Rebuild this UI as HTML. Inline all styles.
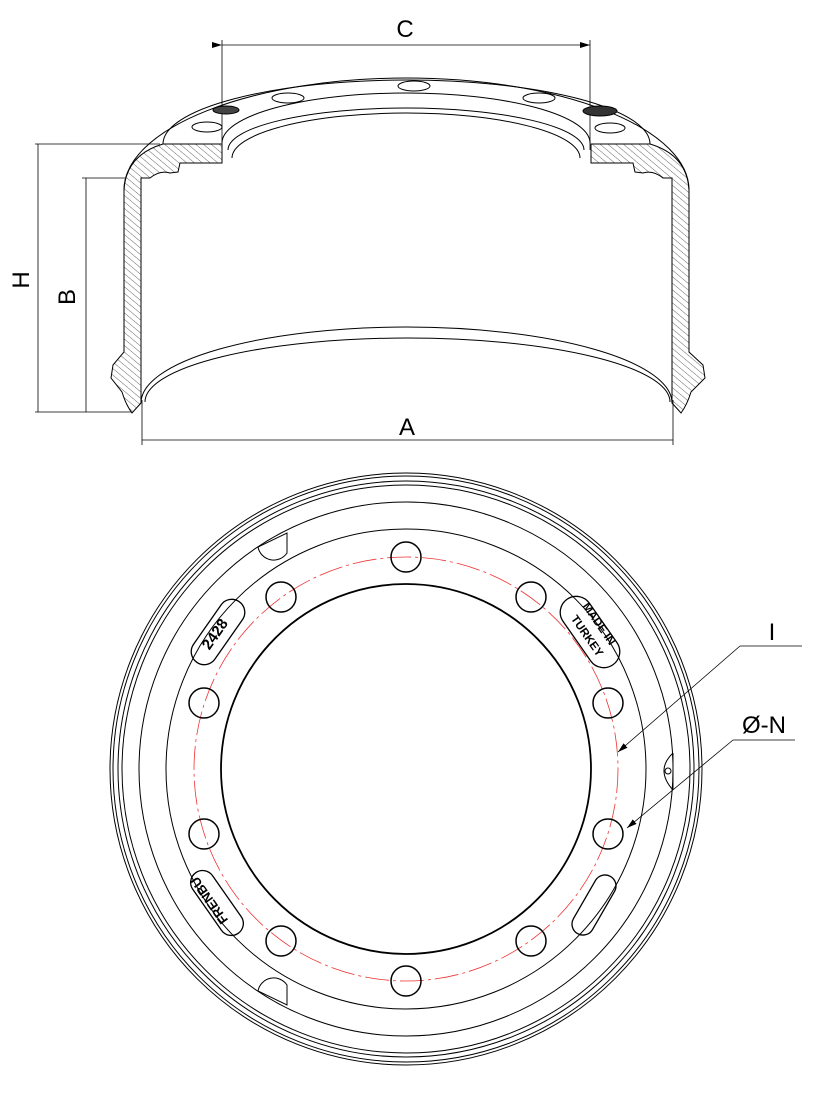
<!DOCTYPE html>
<html><head><meta charset="utf-8"><style>
html,body{margin:0;padding:0;background:#fff}
svg{display:block}
text{font-family:"Liberation Sans",sans-serif}
</style></head><body>
<svg width="815" height="1107" viewBox="0 0 815 1107" xmlns="http://www.w3.org/2000/svg">
<defs>
<pattern id="h" width="5" height="5" patternUnits="userSpaceOnUse" patternTransform="rotate(-50)">
<line x1="0" y1="0" x2="0" y2="5" stroke="#000" stroke-width="0.6"/>
</pattern>
<marker id="ar" markerWidth="10" markerHeight="6" refX="10" refY="3" orient="auto" markerUnits="userSpaceOnUse">
<path d="M0,0 L10,3 L0,6 Z" fill="#000"/>
</marker>
</defs>
<g fill="none" stroke="#000" stroke-width="1">
<line x1="222" y1="40" x2="222" y2="150" stroke-width="0.8"/>
<line x1="590" y1="40" x2="590" y2="150" stroke-width="0.8"/>
<line x1="222" y1="45" x2="590" y2="45" marker-start="url(#ar)" marker-end="url(#ar)" stroke-width="0.8"/>
<line x1="35" y1="144" x2="160" y2="144" stroke-width="0.8"/>
<line x1="35" y1="412" x2="132" y2="412" stroke-width="0.8"/>
<line x1="38" y1="144" x2="38" y2="412" stroke-width="0.8"/>
<line x1="82" y1="178" x2="125" y2="178" stroke-width="0.8"/>
<line x1="86" y1="178" x2="86" y2="412" stroke-width="0.8"/>
<line x1="142" y1="400" x2="142" y2="445" stroke-width="0.8"/>
<line x1="673" y1="400" x2="673" y2="445" stroke-width="0.8"/>
<line x1="142" y1="440" x2="673" y2="440" stroke-width="0.8"/>

<path d="M124,190 A282.5,112 0 0 1 689,190"/>
<path d="M163,144 A243.5,64 0 0 1 650,144"/>
<path d="M222,143 A184,50 0 0 1 590,143"/>
<path d="M228,150 A178,42 0 0 1 584,150"/>
<path d="M232,158 A174,45 0 0 1 580,158"/>
<path d="M141,403 A265.5,76 0 0 1 672,403"/>
<path d="M145,402 A262.5,64 0 0 1 670,402"/>
<path d="M124,190 Q126,155 163,144 L222,144 L222,163 L180,163 L178,172 L170,173 Q160,170 150,178 L141,178 L141,403 L132,413 Q126,405 122,392 L111,378 L113,365 L124,352 Z" fill="url(#h)"/>
<path d="M689,190 Q687,155 650,144 L591,144 L591,163 L633,163 L635,172 L643,173 Q653,170 663,178 L672,178 L672,403 L681,413 Q687,405 691,392 L705,378 L703,365 L689,352 Z" fill="url(#h)"/>
<ellipse cx="414" cy="86" rx="16" ry="5"/>
<ellipse cx="288" cy="98" rx="16" ry="5"/>
<ellipse cx="539" cy="98" rx="16" ry="5"/>
<ellipse cx="207" cy="127" rx="15" ry="5"/>
<ellipse cx="610" cy="128" rx="15" ry="5"/>
<ellipse cx="226" cy="110" rx="13" ry="4" fill="#444"/>
<ellipse cx="600" cy="111" rx="17" ry="5" fill="#333"/>

<circle cx="406" cy="769" r="296"/>
<circle cx="406" cy="769" r="293"/>
<circle cx="406" cy="769" r="288"/>
<circle cx="406" cy="769" r="284"/>
<circle cx="406" cy="769" r="267"/>
<circle cx="406" cy="769" r="240"/>
<circle cx="406" cy="769" r="185" stroke-width="1.8"/>
<circle cx="406" cy="769" r="212" stroke="#e33" stroke-width="0.8" stroke-dasharray="24,4,3,4"/>
<g stroke-width="1.5">
<circle cx="406" cy="557" r="15"/>
<circle cx="531" cy="597" r="15"/>
<circle cx="281" cy="597" r="15"/>
<circle cx="608" cy="703" r="15"/>
<circle cx="204" cy="703" r="15"/>
<circle cx="608" cy="834" r="15"/>
<circle cx="204" cy="834" r="15"/>
<circle cx="531" cy="941" r="15"/>
<circle cx="281" cy="941" r="15"/>
<circle cx="406" cy="981" r="15"/>
</g>
<path d="M287,533 L287,553 A16,16 0 0 1 258,547 Z"/>
<path d="M287,1005 L287,985 A16,16 0 0 0 258,991 Z"/>
<path d="M673,753 Q655,770 673,790"/>
<line x1="673" y1="753" x2="673" y2="790"/>
<circle cx="668" cy="771" r="3"/>
<rect x="-33" y="-11" width="66" height="22" rx="11" transform="translate(594,905) rotate(-60)" stroke-width="1.3"/>
<rect x="-37" y="-13" width="74" height="26" rx="13" transform="translate(218,632) rotate(-55)" stroke-width="1.3"/>
<rect x="-40" y="-16" width="80" height="32" rx="16" transform="translate(590,632) rotate(55)" stroke-width="1.3"/>
<rect x="-37" y="-12" width="74" height="24" rx="12" transform="translate(217,903) rotate(55)" stroke-width="1.3"/>
<line x1="740" y1="646" x2="802" y2="646" stroke-width="0.8"/>
<line x1="740" y1="646" x2="618" y2="752" marker-end="url(#ar)" stroke-width="0.8"/>
<line x1="733" y1="740" x2="795" y2="740" stroke-width="0.8"/>
<line x1="733" y1="740" x2="627" y2="828" marker-end="url(#ar)" stroke-width="0.8"/>
</g>
<g fill="#000" font-size="24">
<text x="405" y="37" text-anchor="middle">C</text>
<text x="407" y="435" text-anchor="middle">A</text>
<text transform="translate(29,280) rotate(-90)" text-anchor="middle">H</text>
<text transform="translate(75,297) rotate(-90)" text-anchor="middle">B</text>
<text x="772" y="640" text-anchor="middle">I</text>
<text x="764" y="733" text-anchor="middle">Ø-N</text>
</g>
<g fill="#000" font-weight="bold">
<text transform="translate(219,637) rotate(-55)" text-anchor="middle" font-size="15">2428</text>
<text transform="translate(596,626) rotate(55)" text-anchor="middle" font-size="11.5">MADE IN</text>
<text transform="translate(584,638) rotate(55)" text-anchor="middle" font-size="11.5">TURKEY</text>
<text transform="translate(213,898) rotate(-125)" text-anchor="middle" font-size="13">FRENBU</text>
</g>
</svg>
</body></html>
